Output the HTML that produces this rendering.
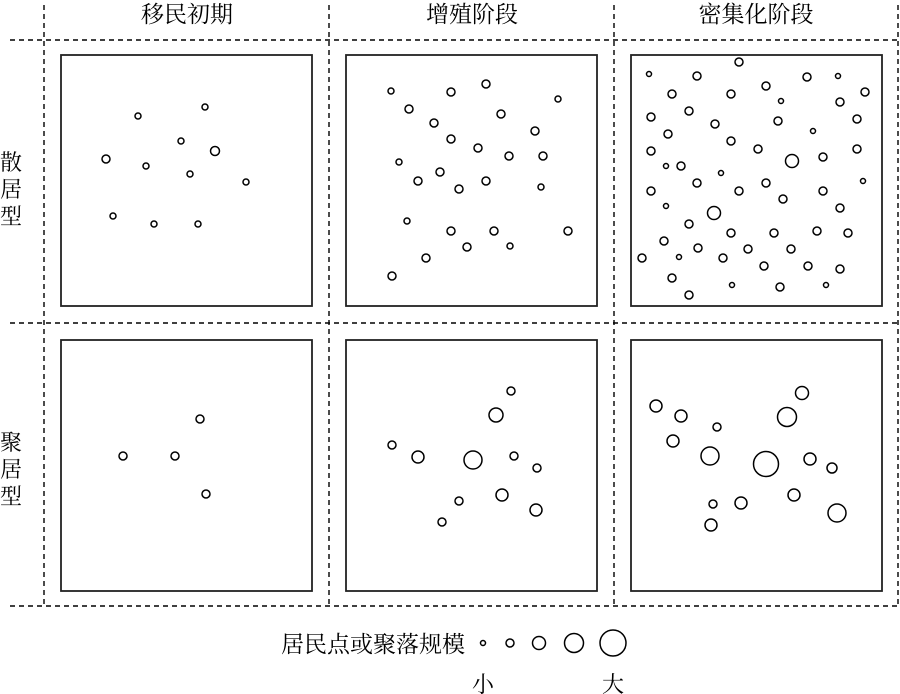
<!DOCTYPE html>
<html><head><meta charset="utf-8"><style>
html,body{margin:0;padding:0;background:#fff;}
svg{display:block;}
text{font-family:"Liberation Serif","Noto Serif CJK SC","Noto Sans CJK SC",serif;fill:#000;}
</style></head><body>
<svg width="900" height="694" viewBox="0 0 900 694" xmlns="http://www.w3.org/2000/svg">
<g stroke="#000" stroke-width="1.4" stroke-dasharray="5,4" fill="none">
<line x1="10" y1="40" x2="900" y2="40"/>
<line x1="10" y1="323" x2="900" y2="323"/>
<line x1="10" y1="606" x2="900" y2="606"/>
<line x1="44" y1="5" x2="44" y2="606"/>
<line x1="329" y1="5" x2="329" y2="606"/>
<line x1="614" y1="5" x2="614" y2="606"/>
<line x1="898" y1="5" x2="898" y2="606"/>
</g>
<g font-size="23" text-anchor="middle">
<text x="187" y="22">移民初期</text>
<text x="472" y="22">增殖阶段</text>
<text x="756" y="22">密集化阶段</text>
</g>
<g font-size="22" text-anchor="middle">
<text x="11" y="170">散</text><text x="11" y="197">居</text><text x="11" y="224">型</text>
<text x="11" y="450">聚</text><text x="11" y="477">居</text><text x="11" y="504">型</text>
</g>
<g stroke="#222" stroke-width="1.8" fill="none">
<rect x="61" y="55" width="251" height="251"/>
<rect x="346" y="55" width="251" height="251"/>
<rect x="631" y="55" width="251" height="251"/>
<rect x="61" y="340" width="251" height="251"/>
<rect x="346" y="340" width="251" height="251"/>
<rect x="631" y="340" width="251" height="251"/>
</g>
<g stroke="#000" stroke-width="1.5" fill="none">
<circle cx="138" cy="116" r="3"/><circle cx="205" cy="107" r="3"/><circle cx="181" cy="141" r="3"/><circle cx="106" cy="159" r="4"/><circle cx="215" cy="151" r="4.5"/><circle cx="146" cy="166" r="3"/><circle cx="190" cy="174" r="3"/><circle cx="246" cy="182" r="3"/><circle cx="113" cy="216" r="3"/><circle cx="154" cy="224" r="3"/><circle cx="198" cy="224" r="3"/>
<circle cx="391" cy="91" r="3"/><circle cx="451" cy="92" r="4"/><circle cx="486" cy="84" r="4"/><circle cx="558" cy="99" r="3"/><circle cx="409" cy="109" r="4"/><circle cx="501" cy="114" r="4"/><circle cx="434" cy="123" r="4"/><circle cx="535" cy="131" r="4"/><circle cx="451" cy="139" r="4"/><circle cx="478" cy="148" r="4"/><circle cx="509" cy="156" r="4"/><circle cx="543" cy="156" r="4"/><circle cx="399" cy="162" r="3"/><circle cx="440" cy="172" r="4"/><circle cx="418" cy="181" r="4"/><circle cx="459" cy="189" r="4"/><circle cx="486" cy="181" r="4"/><circle cx="541" cy="187" r="3"/><circle cx="407" cy="221" r="3"/><circle cx="451" cy="231" r="4"/><circle cx="494" cy="231" r="4"/><circle cx="568" cy="231" r="4"/><circle cx="467" cy="247" r="4"/><circle cx="510" cy="246" r="3"/><circle cx="426" cy="258" r="4"/><circle cx="392" cy="276" r="4"/>
<circle cx="649" cy="74" r="2.5"/><circle cx="697" cy="76" r="4"/><circle cx="739" cy="62" r="4"/><circle cx="766" cy="86" r="4"/><circle cx="807" cy="77" r="4"/><circle cx="838" cy="76" r="2.5"/><circle cx="865" cy="92" r="4"/><circle cx="672" cy="94" r="4"/><circle cx="731" cy="94" r="4"/><circle cx="781" cy="101" r="2.5"/><circle cx="840" cy="102" r="4"/><circle cx="689" cy="111" r="4"/><circle cx="651" cy="117" r="4"/><circle cx="778" cy="121" r="4"/><circle cx="857" cy="119" r="4"/><circle cx="715" cy="124" r="4"/><circle cx="668" cy="134" r="4"/><circle cx="813" cy="131" r="2.5"/><circle cx="731" cy="141" r="4"/><circle cx="651" cy="151" r="4"/><circle cx="758" cy="149" r="4"/><circle cx="792" cy="161" r="6.5"/><circle cx="823" cy="157" r="4"/><circle cx="857" cy="149" r="4"/><circle cx="666" cy="166" r="2.5"/><circle cx="681" cy="166" r="4"/><circle cx="721" cy="173" r="2.5"/><circle cx="697" cy="183" r="4"/><circle cx="766" cy="183" r="4"/><circle cx="651" cy="191" r="4"/><circle cx="739" cy="191" r="4"/><circle cx="823" cy="191" r="4"/><circle cx="863" cy="181" r="2.5"/><circle cx="783" cy="199" r="4"/><circle cx="666" cy="206" r="2.5"/><circle cx="840" cy="208" r="4"/><circle cx="714" cy="213" r="6.5"/><circle cx="689" cy="224" r="4"/><circle cx="731" cy="233" r="4"/><circle cx="774" cy="233" r="4"/><circle cx="817" cy="231" r="4"/><circle cx="848" cy="233" r="4"/><circle cx="664" cy="241" r="4"/><circle cx="698" cy="248" r="4"/><circle cx="748" cy="249" r="4"/><circle cx="791" cy="249" r="4"/><circle cx="642" cy="258" r="4"/><circle cx="679" cy="257" r="2.5"/><circle cx="723" cy="258" r="4"/><circle cx="764" cy="266" r="4"/><circle cx="808" cy="266" r="4"/><circle cx="840" cy="269" r="4"/><circle cx="672" cy="278" r="4"/><circle cx="732" cy="285" r="2.5"/><circle cx="780" cy="287" r="4"/><circle cx="826" cy="285" r="2.5"/><circle cx="689" cy="295" r="4"/>
<circle cx="123" cy="456" r="4"/><circle cx="175" cy="456" r="4"/><circle cx="200" cy="419" r="4"/><circle cx="206" cy="494" r="4"/>
<circle cx="511" cy="391" r="4"/><circle cx="496" cy="415" r="7"/><circle cx="392" cy="445" r="4"/><circle cx="418" cy="457" r="6"/><circle cx="473" cy="460" r="9"/><circle cx="514" cy="456" r="4"/><circle cx="537" cy="468" r="4"/><circle cx="502" cy="495" r="6"/><circle cx="459" cy="501" r="4"/><circle cx="536" cy="510" r="6"/><circle cx="442" cy="522" r="4"/>
<circle cx="656" cy="406" r="6"/><circle cx="681" cy="416" r="6"/><circle cx="802" cy="393" r="6.5"/><circle cx="787" cy="417" r="9.5"/><circle cx="717" cy="427" r="4"/><circle cx="673" cy="441" r="6"/><circle cx="710" cy="456" r="9"/><circle cx="766" cy="464" r="12.5"/><circle cx="810" cy="459" r="6"/><circle cx="832" cy="468" r="5"/><circle cx="794" cy="495" r="6"/><circle cx="741" cy="503" r="6"/><circle cx="713" cy="504" r="4"/><circle cx="837" cy="513" r="9"/><circle cx="711" cy="525" r="6"/>
<circle cx="483" cy="643" r="2.5"/><circle cx="510" cy="643" r="4"/><circle cx="539" cy="643" r="6.5"/><circle cx="574" cy="643" r="9.5"/><circle cx="613" cy="643" r="13"/>
</g>
<text x="281" y="652" font-size="23">居民点或聚落规模</text>
<text x="483" y="692" font-size="22" text-anchor="middle">小</text>
<text x="613" y="692" font-size="22" text-anchor="middle">大</text>
</svg>
</body></html>
